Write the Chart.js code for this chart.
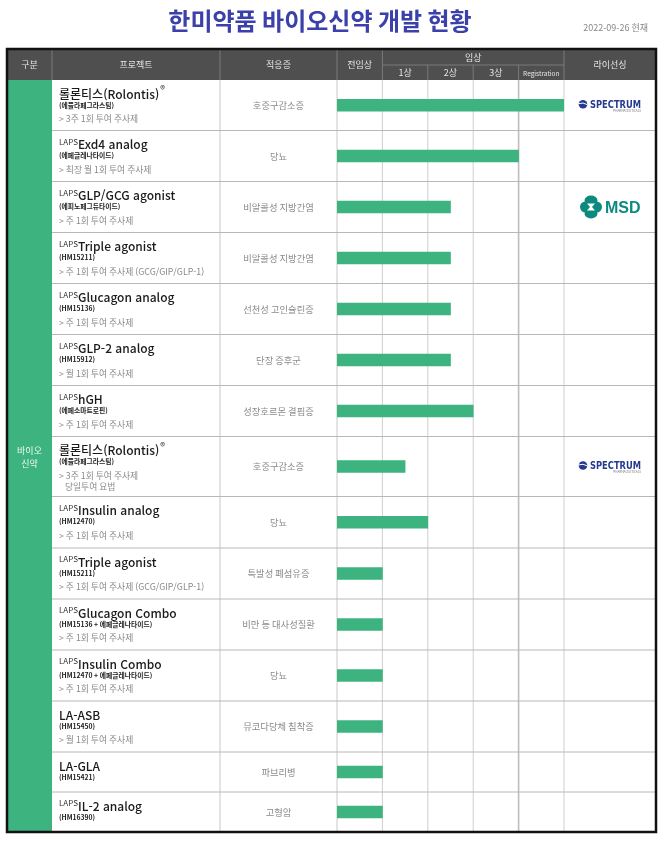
<!DOCTYPE html>
<html lang="ko">
<head>
<meta charset="utf-8">
<title>한미약품 바이오신약 개발 현황</title>
<script src="https://cdn.jsdelivr.net/npm/chart.js@4/dist/chart.umd.min.js"></script>
<style>
    html, body { margin: 0; padding: 0; background: #fff; }
    canvas { display: block; }
</style>
</head>
<body>
<canvas id="chart" width="670" height="848"></canvas>
<script>
// 데이터
const projects = ['롤론티스(Rolontis)', 'Exd4 analog', 'GLP/GCG agonist', 'Triple agonist', 'Glucagon analog',
    'GLP-2 analog', 'hGH', '롤론티스(Rolontis)', 'Insulin analog', 'Triple agonist',
    'Glucagon Combo', 'Insulin Combo', 'LA-ASB', 'LA-GLA', 'IL-2 analog'];
const prefixes = ['', 'LAPS', 'LAPS', 'LAPS', 'LAPS', 'LAPS', 'LAPS', '', 'LAPS', 'LAPS', 'LAPS', 'LAPS', '', '', 'LAPS'];
const marks = ['®', '', '', '', '', '', '', '®', '', '', '', '', '', '', ''];
const codes = ['(에플라페그라스팀)', '(에페글레나타이드)', '(에피노페그듀타이드)', '(HM15211)', '(HM15136)',
    '(HM15912)', '(에페소마트로핀)', '(에플라페그라스팀)', '(HM12470)', '(HM15211)',
    '(HM15136 + 에페글레나타이드)', '(HM12470 + 에페글레나타이드)', '(HM15450)', '(HM15421)', '(HM16390)'];
const dosing = [['> 3주 1회 투여 주사제'], ['> 최장 월 1회 투여 주사제'], ['> 주 1회 투여 주사제'],
    ['> 주 1회 투여 주사제 (GCG/GIP/GLP-1)'], ['> 주 1회 투여 주사제'], ['> 월 1회 투여 주사제'],
    ['> 주 1회 투여 주사제'], ['> 3주 1회 투여 주사제', '   당일투여 요법'], ['> 주 1회 투여 주사제'],
    ['> 주 1회 투여 주사제 (GCG/GIP/GLP-1)'], ['> 주 1회 투여 주사제'], ['> 주 1회 투여 주사제'],
    ['> 월 1회 투여 주사제'], [], []];
const indications = ['호중구감소증', '당뇨', '비알콜성 지방간염', '비알콜성 지방간염', '선천성 고인슐린증',
    '단장 증후군', '성장호르몬 결핍증', '호중구감소증', '당뇨', '특발성 폐섬유증',
    '비만 등 대사성질환', '당뇨', '뮤코다당체 침착증', '파브리병', '고형암'];
// 단계: 1 = 전임상 완료 지점, 5 = Registration 끝
const stage = [5, 4, 2.5, 2.5, 2.5, 2.5, 3, 1.5, 2, 1, 1, 1, 1, 1, 1];
const partners = ['SPECTRUM', '', 'MSD', '', '', '', '', 'SPECTRUM', '', '', '', '', '', '', ''];
const phaseLabels = ['전임상', '1상', '2상', '3상', 'Registration'];
const category = ['바이오', '신약'];

// 레이아웃
const FONT = '"Noto Sans CJK KR", "Noto Sans", sans-serif';
const GREEN = '#3db37f';
const HEADER_BG = '#4f4f4f';
const TABLE = { left: 7, right: 656, top: 49, head: 80, bottom: 832 };
const COLS = { cat: 52, proj: 220, ind: 337, chartEnd: 564 };
const rowHeights = [50.5, 51, 51, 51, 51, 51, 51, 60, 51.5, 51, 51, 51, 51, 40, 40];
const rowEdges = [0];
rowHeights.forEach(h => rowEdges.push(rowEdges[rowEdges.length - 1] + h));
const rowMid = rowHeights.map((h, i) => rowEdges[i] + h / 2);
const TOTAL = rowEdges[rowEdges.length - 1];

function drawText(ctx, text, x, y, font, color, align = 'left') {
    ctx.font = font;
    ctx.fillStyle = color;
    ctx.textAlign = align;
    ctx.textBaseline = 'alphabetic';
    ctx.fillText(text, x, y);
    return ctx.measureText(text).width;
}

function line(ctx, x1, y1, x2, y2, color, w = 1) {
    ctx.strokeStyle = color;
    ctx.lineWidth = w;
    ctx.beginPath();
    ctx.moveTo(x1, y1);
    ctx.lineTo(x2, y2);
    ctx.stroke();
}

function drawSpectrum(ctx, cx, cy) {
    ctx.save();
    ctx.fillStyle = '#243a8e';
    ctx.beginPath();
    ctx.arc(cx - 27, cy, 4.3, 0, Math.PI * 2);
    ctx.fill();
    ctx.strokeStyle = '#fff';
    ctx.lineWidth = 1;
    ctx.beginPath();
    ctx.moveTo(cx - 31.5, cy - 0.5);
    ctx.quadraticCurveTo(cx - 27, cy - 2.5, cx - 22.5, cy + 0.5);
    ctx.stroke();
    ctx.font = 'bold 10px "DejaVu Sans Condensed", "DejaVu Sans", sans-serif';
    const w = ctx.measureText('SPECTRUM').width;
    ctx.translate(cx - 20, cy + 3.8);
    ctx.scale(51 / w, 1);
    ctx.fillText('SPECTRUM', 0, 0);
    ctx.restore();
    ctx.save();
    ctx.fillStyle = '#777';
    ctx.font = '3px ' + FONT;
    ctx.textAlign = 'right';
    ctx.fillText('PHARMACEUTICALS', cx + 31, cy + 7.5);
    ctx.restore();
}

function drawMsd(ctx, cx, cy) {
    const c = '#0c8a7d';
    const lx = cx - 19;
    ctx.save();
    ctx.fillStyle = c;
    ctx.beginPath();
    ctx.arc(lx - 5.5, cy, 5.5, 0, Math.PI * 2);
    ctx.arc(lx + 5.5, cy, 5.5, 0, Math.PI * 2);
    ctx.fill();
    ctx.beginPath();
    ctx.ellipse(lx, cy - 6.5, 6.5, 5, 0, 0, Math.PI * 2);
    ctx.ellipse(lx, cy + 6.5, 6.5, 5, 0, 0, Math.PI * 2);
    ctx.fill();
    ctx.fillStyle = '#fff';
    ctx.beginPath();
    ctx.moveTo(lx - 4, cy - 3.5);
    ctx.lineTo(lx + 4, cy - 3.5);
    ctx.lineTo(lx + 1, cy);
    ctx.lineTo(lx + 4, cy + 3.5);
    ctx.lineTo(lx - 4, cy + 3.5);
    ctx.lineTo(lx - 1, cy);
    ctx.closePath();
    ctx.fill();
    ctx.fillStyle = c;
    ctx.font = 'bold 16px "Liberation Sans", Arial, sans-serif';
    ctx.textAlign = 'left';
    ctx.fillText('MSD', cx - 5, cy + 6);
    ctx.restore();
}

const tablePlugin = {
    id: 'pipelineTable',
    beforeDraw(chart) {
        const ctx = chart.ctx;
        const xs = chart.scales.x;
        const ys = chart.scales.y;
        ctx.save();
        ctx.fillStyle = '#fff';
        ctx.fillRect(0, 0, chart.width, chart.height);

        // 제목
        drawText(ctx, '한미약품 바이오신약 개발 현황', 320, 30, 'bold 24px ' + FONT, '#3b40ab', 'center');
        drawText(ctx, '2022-09-26 현재', 648, 31, '9px ' + FONT, '#888', 'right');

        // 헤더
        ctx.fillStyle = HEADER_BG;
        ctx.fillRect(TABLE.left, TABLE.top, TABLE.right - TABLE.left, TABLE.head - TABLE.top);
        const p = k => xs.getPixelForValue(k);
        const hc = '#7a7a7a';
        [COLS.cat, COLS.proj, COLS.ind, p(1), p(5)].forEach(x => line(ctx, x, TABLE.top, x, TABLE.head, hc));
        line(ctx, p(1), 65, p(5), 65, hc);
        [2, 3, 4].forEach(k => line(ctx, p(k), 65, p(k), TABLE.head, hc));
        const hf = '9px ' + FONT;
        const ht = '#e6e6e6';
        const hy = 68;
        drawText(ctx, '구분', (TABLE.left + COLS.cat) / 2, hy, hf, ht, 'center');
        drawText(ctx, '프로젝트', (COLS.cat + COLS.proj) / 2, hy, hf, ht, 'center');
        drawText(ctx, '적응증', (COLS.proj + COLS.ind) / 2, hy, hf, ht, 'center');
        drawText(ctx, phaseLabels[0], (p(0) + p(1)) / 2, hy, hf, ht, 'center');
        drawText(ctx, '임상', (p(1) + p(5)) / 2, 61, hf, ht, 'center');
        for (let k = 1; k < phaseLabels.length; k++) {
            const f = k === 4 ? '6.5px ' + FONT : hf;
            drawText(ctx, phaseLabels[k], (p(k) + p(k + 1)) / 2, 76, f, ht, 'center');
        }
        drawText(ctx, '라이선싱', (p(5) + TABLE.right) / 2, hy, hf, ht, 'center');

        // 구분 열
        ctx.fillStyle = GREEN;
        ctx.fillRect(TABLE.left, TABLE.head, COLS.cat - TABLE.left, TABLE.bottom - TABLE.head);
        drawText(ctx, category[0], (TABLE.left + COLS.cat) / 2, 454, '9px ' + FONT, '#eef8f2', 'center');
        drawText(ctx, category[1], (TABLE.left + COLS.cat) / 2, 467, '9px ' + FONT, '#eef8f2', 'center');

        // 격자
        [COLS.proj, COLS.ind].forEach(x => line(ctx, x, TABLE.head, x, TABLE.bottom, '#c8c8c8'));
        for (let k = 1; k <= 5; k++) {
            const w = k === 4 ? 1.6 : 1;
            const col = k === 4 ? '#bdbdbd' : '#cfcfcf';
            line(ctx, p(k), TABLE.head, p(k), TABLE.bottom, col, w);
        }
        for (let i = 1; i < rowEdges.length - 1; i++) {
            const y = ys.getPixelForValue(rowEdges[i]);
            line(ctx, COLS.cat, y, TABLE.right, y, '#b8b8b8');
        }

        // 행 텍스트
        projects.forEach((name, i) => {
            const top = ys.getPixelForValue(rowEdges[i]);
            const mid = ys.getPixelForValue(rowMid[i]);
            let x = 59;
            if (prefixes[i]) {
                x += drawText(ctx, prefixes[i], x, top + 14, '8px ' + FONT, '#333');
            }
            const nw = drawText(ctx, name, x, top + 18.5, '500 12px ' + FONT, '#1a1a1a');
            if (marks[i]) {
                drawText(ctx, marks[i], x + nw + 1, top + 13, '10px ' + FONT, '#333');
            }
            drawText(ctx, codes[i], 59, top + 27.5, 'bold 6.8px ' + FONT, '#222');
            dosing[i].forEach((d, j) => {
                drawText(ctx, d, 59, top + 42 + j * 11, '8.8px ' + FONT, '#8a8a8a');
            });
            drawText(ctx, indications[i], (COLS.proj + COLS.ind) / 2, mid + 3.5, '9.3px ' + FONT, '#8a8a8a', 'center');
        });
        ctx.restore();
    },
    afterDraw(chart) {
        const ctx = chart.ctx;
        const ys = chart.scales.y;
        const lx = (chart.scales.x.getPixelForValue(5) + TABLE.right) / 2;
        partners.forEach((name, i) => {
            const cy = ys.getPixelForValue(rowMid[i]);
            if (name === 'SPECTRUM') drawSpectrum(ctx, lx, cy - 1);
            if (name === 'MSD') drawMsd(ctx, lx, cy);
        });
        ctx.save();
        ctx.strokeStyle = '#111';
        ctx.lineWidth = 2.5;
        ctx.strokeRect(TABLE.left, TABLE.top, TABLE.right - TABLE.left, TABLE.bottom - TABLE.top);
        ctx.restore();
    }
};

new Chart(document.getElementById('chart'), {
    type: 'bar',
    data: {
        datasets: [{
            data: stage.map((v, i) => ({ x: v, y: rowMid[i] })),
            backgroundColor: GREEN,
            barThickness: 12,
            borderWidth: 0
        }]
    },
    options: {
        indexAxis: 'y',
        responsive: false,
        animation: false,
        layout: { padding: { left: COLS.ind, right: 670 - COLS.chartEnd, top: TABLE.head, bottom: 848 - TABLE.bottom } },
        scales: {
            x: { type: 'linear', min: 0, max: 5, display: false, offset: false },
            y: { type: 'linear', min: 0, max: TOTAL, reverse: true, display: false, offset: false }
        },
        plugins: { legend: { display: false }, tooltip: { enabled: false } }
    },
    plugins: [tablePlugin]
});
</script>
</body>
</html>
